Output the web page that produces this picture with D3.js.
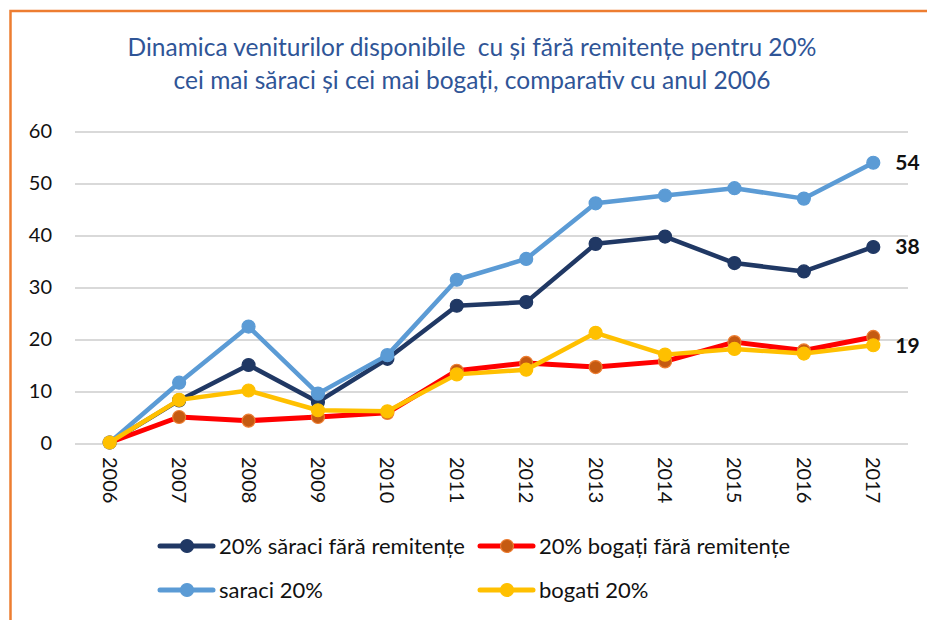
<!DOCTYPE html>
<meta charset="utf-8">
<style>
body { margin: 0; background: #fff; }
svg { display: block; }
.grid line { stroke: #d9d9d9; stroke-width: 2; shape-rendering: crispEdges; }
.axis text { font-family: Lato, "Liberation Sans", sans-serif; font-size: 20px; fill: #111; }
.axis path, .axis line { display: none; }
.title { font-family: Lato, "Liberation Sans", sans-serif; font-size: 24.5px; fill: #2f5597; white-space: pre; }
.legend text { font-family: Lato, "Liberation Sans", sans-serif; font-size: 22px; fill: #111; }
.endlabel { font-family: Lato, "Liberation Sans", sans-serif; font-size: 21px; font-weight: bold; fill: #111; }
</style>
<svg width="927" height="620"></svg>
<script src="https://cdn.jsdelivr.net/npm/d3@7"></script>
<script>

var years = ["2006","2007","2008","2009","2010","2011","2012","2013","2014","2015","2016","2017"];
var yTicks = [0,10,20,30,40,50,60];

var saraciFara = [0, 8.1, 14.9, 7.8, 16.1, 26.3, 27.0, 38.2, 39.6, 34.5, 32.9, 37.6];
var bogatiFara = [0, 4.9, 4.2, 4.9, 5.7, 13.8, 15.3, 14.5, 15.6, 19.3, 17.7, 20.3];
var saraci = [0, 11.5, 22.3, 9.4, 16.8, 31.3, 35.3, 46.0, 47.5, 48.9, 46.9, 53.8];
var bogati = [0, 8.2, 10.0, 6.2, 6.0, 13.1, 14.0, 21.1, 16.9, 18.0, 17.1, 18.7];

var titleLines = ["Dinamica veniturilor disponibile  cu și fără remitențe pentru 20%",
                  "cei mai săraci și cei mai bogați, comparativ cu anul 2006"];

// draw order: later ones on top
var series = [
  {name: "20% săraci fără remitențe", values: saraciFara, color: "#203864", dot: "#203864", dotStroke: "#203864", label: true, lx: 160, ly: 546},
  {name: "20% bogați fără remitențe", values: bogatiFara, color: "#ff0000", dot: "#c55a11", dotStroke: "#ed7d31", label: false, lx: 480, ly: 546},
  {name: "saraci 20%", values: saraci, color: "#5b9bd5", dot: "#5b9bd5", dotStroke: "#5b9bd5", label: true, lx: 160, ly: 590},
  {name: "bogati 20%", values: bogati, color: "#ffc000", dot: "#ffc000", dotStroke: "#ffc000", label: true, lx: 480, ly: 590}
];

var svg = d3.select("svg");

// orange chart border (runs off the right and bottom)
svg.append("rect")
  .attr("x", 10.5).attr("y", 11)
  .attr("width", 1000).attr("height", 1000)
  .attr("fill", "none")
  .attr("stroke", "#ed7d31")
  .attr("stroke-width", 2.5);

svg.append("g").selectAll("text")
  .data(titleLines)
  .enter().append("text")
  .attr("class", "title")
  .attr("x", 472)
  .attr("y", function(d, i) { return 56 + i * 33; })
  .attr("text-anchor", "middle")
  .text(function(d) { return d; });

var x = d3.scaleBand().domain(years).range([75, 908]),
    y = d3.scaleLinear().domain([0, 60]).range([442.5, 130.5]);

svg.append("g").attr("class", "grid")
  .selectAll("line")
  .data(yTicks)
  .enter().append("line")
  .attr("x1", 75).attr("x2", 908)
  .attr("y1", function(d) { return Math.round(y(d)) + 0.5; })
  .attr("y2", function(d) { return Math.round(y(d)) + 0.5; });

svg.append("g")
  .attr("class", "axis")
  .attr("transform", "translate(60,0)")
  .call(d3.axisLeft(y).tickValues(yTicks).tickSize(0).tickPadding(8))
  .selectAll("text").attr("dy", "0.35em");

var xAx = svg.append("g")
  .attr("class", "axis")
  .attr("transform", "translate(0,456)")
  .call(d3.axisBottom(x).tickSize(0).tickPadding(0));

xAx.selectAll("text")
  .attr("transform", "rotate(90)")
  .attr("text-anchor", "start")
  .attr("x", 1)
  .attr("y", 0)
  .attr("dy", "0.35em");

var line = d3.line()
  .x(function(d, i) { return x(years[i]) + x.bandwidth() / 2; })
  .y(function(d) { return y(d); });

series.forEach(function(s) {
  var g = svg.append("g");
  g.append("path")
    .datum(s.values)
    .attr("fill", "none")
    .attr("stroke", s.color)
    .attr("stroke-width", s.color == "#ff0000" ? 5 : 4.5)
    .attr("stroke-linejoin", "round")
    .attr("d", line);
  g.selectAll("circle")
    .data(s.values)
    .enter().append("circle")
    .attr("cx", function(d, i) { return x(years[i]) + x.bandwidth() / 2; })
    .attr("cy", function(d) { return y(d); })
    .attr("r", 6.5)
    .attr("fill", s.dot)
    .attr("stroke", s.dotStroke)
    .attr("stroke-width", 1.2);
  if (s.label) {
    var last = s.values[s.values.length - 1];
    svg.append("text")
      .attr("class", "endlabel")
      .attr("x", x(years[years.length - 1]) + x.bandwidth() / 2 + 22)
      .attr("y", y(last))
      .attr("dy", "0.35em")
      .text(Math.round(last));
  }
});

// legend
var leg = svg.append("g").attr("class", "legend");
series.forEach(function(s) {
  var g = leg.append("g").attr("transform", "translate(" + s.lx + "," + s.ly + ")");
  g.append("line")
    .attr("x1", 0).attr("x2", 53)
    .attr("stroke", s.color)
    .attr("stroke-width", 5)
    .attr("stroke-linecap", "round");
  g.append("circle")
    .attr("cx", 27).attr("r", 6.5)
    .attr("fill", s.dot).attr("stroke", s.dotStroke).attr("stroke-width", 1.2);
  g.append("text")
    .attr("x", 59).attr("dy", "0.35em")
    .text(s.name);
});

</script>
